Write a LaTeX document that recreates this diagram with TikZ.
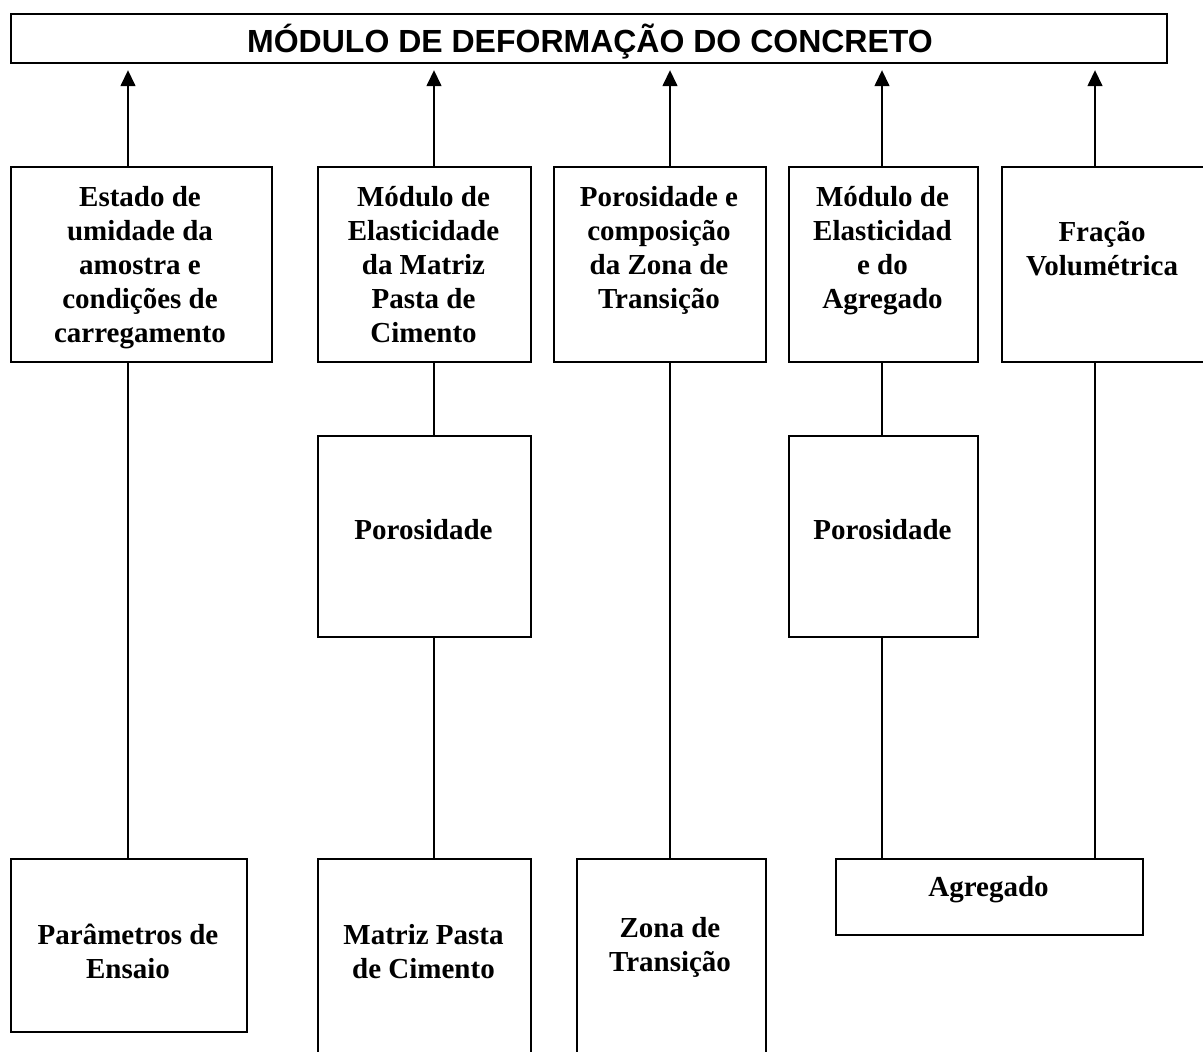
\documentclass[tikz,border=0pt]{standalone}
\usepackage{fontspec}
\setmainfont{Liberation Serif}
\newfontfamily\titulofonte{Liberation Sans}
\usetikzlibrary{arrows.meta}

\tikzset{
  caixa/.style={draw, line width=1.8pt, inner sep=0pt, anchor=north west},
  texto/.style={font=\fontsize{29}{34}\selectfont\bfseries, align=center, inner sep=0pt},
  ligacao/.style={line width=1.5pt},
  seta/.style={line width=1.5pt, -{Triangle[length=16pt,width=15pt]}, shorten >=6pt}
}

\begin{document}
\begin{tikzpicture}[x=1pt,y=-1pt]
\useasboundingbox (0,0) rectangle (1203,1052);

% Title box
\node [caixa, line width=2.2pt, minimum width=1156pt, minimum height=49pt] (titulo) at (10,13) {};
\node [font=\titulofonte\fontsize{32}{36}\selectfont\bfseries, anchor=base, inner sep=0pt] (titulotxt) at (590,52) {MÓDULO DE DEFORMAÇÃO DO CONCRETO};

% Columns of the connectors
\coordinate (c1) at (128,0);
\coordinate (c2) at (434,0);
\coordinate (c3) at (670,0);
\coordinate (c4) at (882,0);
\coordinate (c5) at (1095,0);

% First row of boxes
\node [caixa, minimum width=261pt, minimum height=195pt] (estado) at (10,166) {};
\node [caixa, minimum width=213pt, minimum height=195pt] (modpasta) at (317,166) {};
\node [caixa, minimum width=212pt, minimum height=195pt] (porzona) at (553,166) {};
\node [caixa, minimum width=189pt, minimum height=195pt] (modagr) at (788,166) {};
\node [caixa, minimum width=205pt, minimum height=195pt] (fracao) at (1001,166) {};

\node [texto, anchor=north] (estadotxt) at (140,186) {Estado de\\umidade da\\amostra e\\condições de\\carregamento};
\node [texto, anchor=north] (modpastatxt) at (423.5,186) {Módulo de\\Elasticidade\\da Matriz\\Pasta de\\Cimento};
\node [texto, anchor=north] (porzonatxt) at (659,186) {Porosidade e\\composição\\da Zona de\\Transição};
\node [texto, anchor=north] (modagrtxt) at (882.5,186) {Módulo de\\Elasticidad\\e do\\Agregado};
\node [texto, anchor=north] (fracaotxt) at (1102,221) {Fração\\Volumétrica};

% Second row of boxes
\node [caixa, minimum width=213pt, minimum height=201pt] (poro1) at (317,435) {};
\node [caixa, minimum width=189pt, minimum height=201pt] (poro2) at (788,435) {};
\node [texto] (poro1txt) at (423.5,530) {Porosidade};
\node [texto] (poro2txt) at (882.5,530) {Porosidade};

% Third row of boxes
\node [caixa, minimum width=236pt, minimum height=173pt] (parametros) at (10,858) {};
\node [caixa, minimum width=213pt, minimum height=200pt] (matriz) at (317,858) {};
\node [caixa, minimum width=189pt, minimum height=200pt] (zona) at (576,858) {};
\node [caixa, minimum width=307pt, minimum height=76pt] (agregado) at (835,858) {};

\node [texto, anchor=north] (parametrostxt) at (128,924) {Parâmetros de\\Ensaio};
\node [texto, anchor=north] (matriztxt) at (423.5,924) {Matriz Pasta\\de Cimento};
\node [texto, anchor=north] (zonatxt) at (670,917) {Zona de\\Transição};
\node [texto] (agregadotxt) at (988.5,890) {Agregado};

% Arrows up to the title
\foreach \caixa/\col in {estado/c1, modpasta/c2, porzona/c3, modagr/c4, fracao/c5}
  \draw [seta] (\caixa.north -| \col) -- (titulo.south -| \col);

% Vertical lines between the rows
\draw [ligacao] (estado.south -| c1) -- (parametros.north -| c1);
\draw [ligacao] (modpasta.south -| c2) -- (poro1.north -| c2);
\draw [ligacao] (poro1.south -| c2) -- (matriz.north -| c2);
\draw [ligacao] (porzona.south -| c3) -- (zona.north -| c3);
\draw [ligacao] (modagr.south -| c4) -- (poro2.north -| c4);
\draw [ligacao] (poro2.south -| c4) -- (agregado.north -| c4);
\draw [ligacao] (fracao.south -| c5) -- (agregado.north -| c5);

\end{tikzpicture}
\end{document}
